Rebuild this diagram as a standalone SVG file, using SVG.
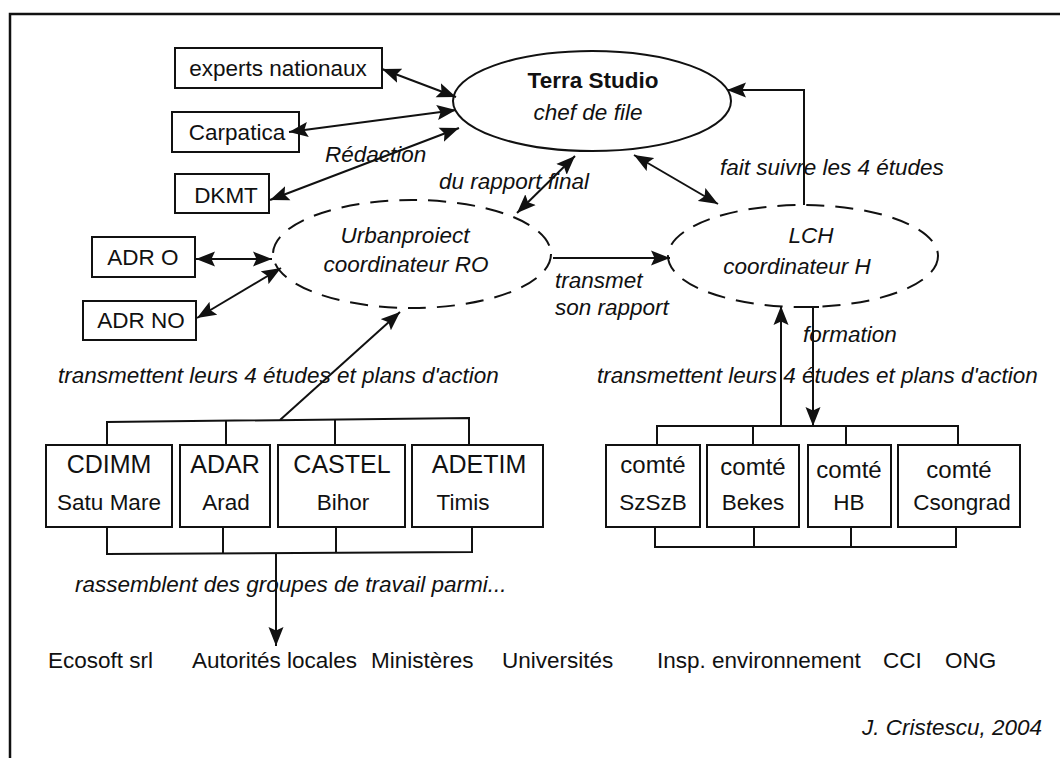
<svg xmlns="http://www.w3.org/2000/svg" width="1060" height="758" viewBox="0 0 1060 758">
<style>
  .box { fill: #fff; stroke: #111; stroke-width: 2; }
  .ell { fill: none; stroke: #111; stroke-width: 2; }
  .dash { fill: none; stroke: #111; stroke-width: 2; stroke-dasharray: 18 11; }
  .ln { fill: none; stroke: #111; stroke-width: 2; }
  .ar { fill: none; stroke: #111; stroke-width: 2; marker-end: url(#ah); }
  .bi { fill: none; stroke: #111; stroke-width: 2; marker-end: url(#ah); marker-start: url(#ah); }
  text { font-family: "Liberation Sans", Arial, sans-serif; fill: #111; }
  .t { font-size: 22.5px; text-anchor: middle; }
  .tb { font-size: 25px; text-anchor: middle; }
  .it { font-size: 22.5px; font-style: italic; }
  .itc { font-size: 22.5px; font-style: italic; text-anchor: middle; }
  .plain { font-size: 22.5px; }
</style>
<defs>
  <marker id="ah" markerUnits="userSpaceOnUse" markerWidth="20" markerHeight="16" refX="19" refY="8" orient="auto-start-reverse">
    <path d="M0,0.5 L19,8 L0,15.5 L3.5,8 z" fill="#111"/>
  </marker>
</defs>
<rect width="1060" height="758" fill="#fff"/>
<path d="M10,758 V14 H1060" fill="none" stroke="#111" stroke-width="2.5"/>

<g id="terra">
  <ellipse class="ell" cx="592" cy="101" rx="139" ry="50"/>
  <text x="593" y="88" class="t" style="font-weight:bold">Terra Studio</text>
  <text x="588" y="120" class="itc">chef de file</text>
</g>
<g id="experts">
  <rect class="box" x="175" y="48" width="207" height="40"/>
  <text x="278" y="76" class="t">experts nationaux</text>
</g>
<g id="carpatica">
  <rect class="box" x="172" y="112" width="127" height="40"/>
  <text x="237" y="140" class="t">Carpatica</text>
</g>
<g id="dkmt">
  <rect class="box" x="175" y="174" width="94" height="39"/>
  <text x="226" y="203" class="t">DKMT</text>
</g>
<g id="adro">
  <rect class="box" x="92" y="237" width="103" height="40"/>
  <text x="143" y="265" class="t">ADR O</text>
</g>
<g id="adrno">
  <rect class="box" x="83" y="301" width="113" height="39"/>
  <text x="141" y="328" class="t">ADR NO</text>
</g>
<g id="urbanproiect">
  <ellipse class="dash" cx="412" cy="254" rx="139" ry="54"/>
  <text x="405" y="243" class="itc">Urbanproiect</text>
  <text x="406" y="272" class="itc">coordinateur RO</text>
</g>
<g id="lch">
  <ellipse class="dash" cx="803" cy="256" rx="135" ry="51"/>
  <text x="811" y="243" class="itc">LCH</text>
  <text x="797" y="274" class="itc">coordinateur H</text>
</g>

<g id="cdimm">
  <rect class="box" x="46" y="445" width="126" height="82"/>
  <text x="109" y="473" class="tb">CDIMM</text>
  <text x="109" y="510" class="t">Satu Mare</text>
</g>
<g id="adar">
  <rect class="box" x="180" y="445" width="90" height="82"/>
  <text x="225" y="473" class="tb">ADAR</text>
  <text x="226" y="510" class="t">Arad</text>
</g>
<g id="castel">
  <rect class="box" x="278" y="445" width="127" height="82"/>
  <text x="342" y="473" class="tb">CASTEL</text>
  <text x="343" y="510" class="t">Bihor</text>
</g>
<g id="adetim">
  <rect class="box" x="412" y="445" width="131" height="82"/>
  <text x="479" y="473" class="tb">ADETIM</text>
  <text x="463" y="510" class="t">Timis</text>
</g>

<g id="szszb">
  <rect class="box" x="606" y="445" width="94" height="82"/>
  <text x="653" y="473" class="t" style="font-size:24px">comté</text>
  <text x="653" y="510" class="t">SzSzB</text>
</g>
<g id="bekes">
  <rect class="box" x="707" y="445" width="92" height="82"/>
  <text x="753" y="475" class="t" style="font-size:24px">comté</text>
  <text x="753" y="510" class="t">Bekes</text>
</g>
<g id="hb">
  <rect class="box" x="808" y="445" width="83" height="82"/>
  <text x="849" y="478" class="t" style="font-size:24px">comté</text>
  <text x="849" y="510" class="t">HB</text>
</g>
<g id="csongrad">
  <rect class="box" x="898" y="445" width="122" height="82"/>
  <text x="959" y="478" class="t" style="font-size:24px">comté</text>
  <text x="962" y="510" class="t">Csongrad</text>
</g>

<g id="connectors">
  <line class="bi" x1="382" y1="69" x2="456" y2="97"/>
  <line class="bi" x1="289" y1="132" x2="456" y2="110"/>
  <line class="bi" x1="270" y1="200" x2="459" y2="128"/>
  <line class="bi" x1="196" y1="259" x2="272" y2="259"/>
  <line class="bi" x1="197" y1="318" x2="281" y2="268"/>
  <line class="bi" x1="517" y1="213" x2="575" y2="156"/>
  <line class="bi" x1="634" y1="155" x2="718" y2="204"/>
  <polyline class="ar" points="804,205 804,90 727,90"/>
  <line class="ar" x1="553" y1="258" x2="670" y2="258"/>
  <polyline class="ln" points="107,445 107,422 469,418 469,445"/>
  <line class="ln" x1="226" y1="421" x2="226" y2="445"/>
  <line class="ln" x1="335" y1="419" x2="335" y2="445"/>
  <line class="ar" x1="280" y1="420" x2="400" y2="312"/>
  <polyline class="ln" points="107,527 107,554 472,552 472,527"/>
  <line class="ln" x1="223" y1="527" x2="223" y2="554"/>
  <line class="ln" x1="336" y1="527" x2="336" y2="553"/>
  <line class="ar" x1="276" y1="553" x2="276" y2="646"/>
  <polyline class="ln" points="657,445 657,426 958,426 958,445"/>
  <line class="ln" x1="753" y1="426" x2="753" y2="445"/>
  <line class="ln" x1="846" y1="426" x2="846" y2="445"/>
  <polyline class="ln" points="655,527 655,547 956,547 956,527"/>
  <line class="ln" x1="754" y1="527" x2="754" y2="547"/>
  <line class="ln" x1="851" y1="527" x2="851" y2="547"/>
  <line class="ar" x1="781" y1="426" x2="781" y2="306"/>
  <line class="ar" x1="813" y1="307" x2="813" y2="426"/>
  <line class="ln" x1="807" y1="307" x2="819" y2="307"/>
</g>

<g id="labels">
  <text x="325" y="162" class="it">Rédaction</text>
  <text x="439" y="189" class="it">du rapport final</text>
  <text x="720" y="175" class="it">fait suivre les 4 études</text>
  <text x="555" y="288" class="it">transmet</text>
  <text x="555" y="315" class="it">son rapport</text>
  <text x="803" y="342" class="it">formation</text>
  <text x="58" y="383" class="it">transmettent leurs 4 études et plans d'action</text>
  <text x="597" y="383" class="it">transmettent leurs 4 études et plans d'action</text>
  <text x="75" y="592" class="it">rassemblent des groupes de travail parmi...</text>
  <text x="48" y="668" class="plain">Ecosoft srl</text>
  <text x="192" y="668" class="plain">Autorités locales</text>
  <text x="371" y="668" class="plain">Ministères</text>
  <text x="502" y="668" class="plain">Universités</text>
  <text x="657" y="668" class="plain">Insp. environnement</text>
  <text x="883" y="668" class="plain">CCI</text>
  <text x="945" y="668" class="plain">ONG</text>
  <text x="1042" y="735" class="it" style="text-anchor:end">J. Cristescu, 2004</text>
</g>
</svg>
